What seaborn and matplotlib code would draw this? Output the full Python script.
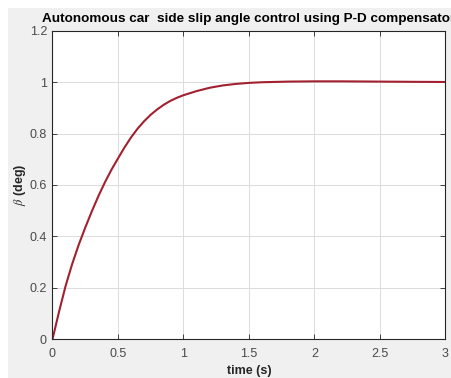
import matplotlib
matplotlib.use("Agg")
import matplotlib.pyplot as plt
import seaborn as sns
import pandas as pd
from matplotlib.patches import Rectangle

# Data
time_s = [0.0, 0.05, 0.1, 0.15, 0.2, 0.25, 0.3, 0.35, 0.4, 0.45, 0.5,
          0.55, 0.6, 0.65, 0.7, 0.75, 0.8, 0.85, 0.9, 0.95, 1.0,
          1.1, 1.2, 1.3, 1.4, 1.5, 1.6, 1.8, 2.0, 2.2, 2.5, 2.8, 3.0]
beta_deg = [0.0, 0.107, 0.207, 0.292, 0.367, 0.434, 0.497, 0.556, 0.610, 0.659, 0.703,
            0.746, 0.785, 0.819, 0.848, 0.873, 0.894, 0.912, 0.927, 0.939, 0.949,
            0.965, 0.978, 0.987, 0.993, 0.997, 0.9995, 1.002, 1.003, 1.003, 1.002, 1.001, 1.0005]
x_ticks = [0, 0.5, 1, 1.5, 2, 2.5, 3]
x_ticklabels = ["0", "0.5", "1", "1.5", "2", "2.5", "3"]
y_ticks = [0, 0.2, 0.4, 0.6, 0.8, 1.0, 1.2]
y_ticklabels = ["0", "0.2", "0.4", "0.6", "0.8", "1", "1.2"]
title_text = "Autonomous car  side slip angle control using P-D compensator"

df = pd.DataFrame({"time": time_s, "beta": beta_deg})

sns.set_theme(style="whitegrid")
plt.rcParams["font.family"] = ["Liberation Sans", "DejaVu Sans"]
plt.rcParams["mathtext.fontset"] = "stix"

W, H = 452, 378
fig = plt.figure(figsize=(W / 100, H / 100), dpi=100, facecolor="white")
bg = Rectangle((8 / W, 0), 1 - 8 / W, 1 - 8 / H,
               transform=fig.transFigure, facecolor="#f0f0f0",
               edgecolor="none", zorder=-10)
fig.patches.append(bg)

ax = fig.add_axes([52.5 / W, 1 - 339.2 / H, (445.3 - 52.5) / W, (339.2 - 30.7) / H])
ax.set_facecolor("white")

sns.lineplot(data=df, x="time", y="beta", ax=ax, color="#A2202F", linewidth=1.5)

ax.set_xlim(0, 3)
ax.set_ylim(0, 1.2)
ax.set_xticks(x_ticks)
ax.set_xticklabels(x_ticklabels)
ax.set_yticks(y_ticks)
ax.set_yticklabels(y_ticklabels)

ax.grid(True, color="#dcdcdc", linewidth=0.7)
for s in ax.spines.values():
    s.set_color("#262626")
    s.set_linewidth(0.8)
    s.set_visible(True)

ax.tick_params(axis="both", which="both", direction="in", length=3.5, width=0.6,
               colors="#262626", labelcolor="#4a4a4a", labelsize=9,
               top=True, right=True, bottom=True, left=True)
ax.tick_params(axis="x", pad=6)
ax.tick_params(axis="y", pad=4)

ax.set_xlabel("time (s)", fontsize=9, fontweight="bold", color="#262626", labelpad=4)
ax.set_ylabel(r"$\beta$ (deg)", fontsize=9, fontweight="bold", color="#262626", labelpad=1)
ax.set_title(title_text, fontsize=9.7, fontweight="bold", color="black", pad=6)

fig.savefig("out.png", dpi=100, facecolor=fig.get_facecolor())
